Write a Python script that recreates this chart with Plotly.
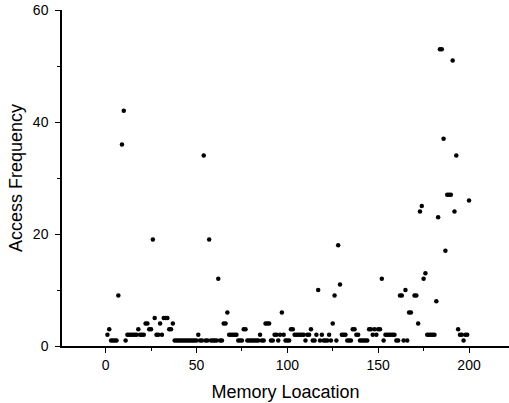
import plotly.graph_objects as go

memory_location = [
    1, 2, 3, 4, 5, 6, 7, 9, 10,
    11, 12, 13, 14, 15, 16, 17, 18, 19, 20,
    21, 22, 23, 24, 25, 26, 27, 28, 29, 30,
    31, 32, 33, 34, 35, 36, 37, 38, 39, 40,
    41, 42, 43, 44, 45, 46, 47, 48, 49, 50,
    51, 52, 53, 54, 55, 56, 57, 58, 59, 60,
    61, 62, 63, 64, 65, 66, 67, 68, 69, 70,
    71, 72, 73, 74, 75, 76, 77, 78, 79, 80,
    81, 82, 83, 84, 85, 86, 87, 88, 89, 90,
    91, 92, 93, 94, 95, 96, 97, 98, 99, 100,
    101, 102, 103, 104, 105, 106, 107, 108, 109, 110,
    111, 112, 113, 114, 115, 116, 117, 118, 119, 120,
    121, 122, 123, 124, 125, 126, 127, 128, 129, 130,
    131, 132, 133, 134, 135, 136, 137, 138, 139, 140,
    141, 142, 143, 144, 145, 146, 147, 148, 149, 150,
    151, 152, 153, 154, 155, 156, 157, 158, 159, 160,
    161, 162, 163, 164, 165, 166, 167, 168, 170,
    171, 172, 173, 174, 175, 176, 177, 178, 179, 180,
    181, 182, 183, 184, 185, 186, 187, 188, 189, 190,
    191, 192, 193, 194, 195, 196, 197, 198, 199, 200,
]

access_frequency = [
    2, 3, 1, 1, 1, 1, 9, 36, 42,
    1, 2, 2, 2, 2, 2, 2, 3, 2, 2,
    2, 4, 4, 3, 3, 19, 5, 2, 2, 4,
    2, 5, 5, 5, 3, 3, 4, 1, 1, 1,
    1, 1, 1, 1, 1, 1, 1, 1, 1, 1,
    2, 1, 1, 34, 1, 1, 19, 1, 1, 1,
    1, 12, 1, 1, 4, 4, 6, 2, 2, 2,
    2, 2, 1, 1, 1, 3, 3, 1, 1, 1,
    1, 1, 1, 1, 2, 1, 1, 4, 4, 4,
    1, 1, 2, 2, 1, 2, 6, 2, 1, 1,
    1, 3, 3, 2, 2, 2, 2, 2, 2, 1,
    2, 2, 3, 1, 1, 2, 10, 1, 2, 1,
    1, 1, 2, 1, 4, 9, 1, 18, 11, 2,
    2, 2, 1, 1, 1, 3, 3, 2, 2, 1,
    1, 1, 1, 1, 3, 3, 2, 3, 2, 3,
    3, 12, 1, 2, 2, 2, 2, 2, 2, 1,
    1, 9, 9, 1, 10, 1, 6, 6, 9,
    9, 4, 24, 25, 12, 13, 2, 2, 2, 2,
    2, 8, 23, 53, 53, 37, 17, 27, 27, 27,
    51, 24, 34, 3, 2, 2, 1, 2, 2, 26,
]

x_ticks = [0, 50, 100, 150, 200]
y_ticks = [0, 20, 40, 60]

fig = go.Figure(
    go.Scatter(
        x=memory_location,
        y=access_frequency,
        mode="markers",
        marker=dict(color="black", size=4.5, line=dict(width=0)),
        cliponaxis=False,
    )
)

axis_font = dict(family="Liberation Sans, Arial, sans-serif", size=14, color="black")
title_font = dict(family="Liberation Sans, Arial, sans-serif", size=18, color="black")

fig.update_layout(
    width=509,
    height=403,
    margin=dict(l=62, r=0, t=10, b=57, autoexpand=False),
    paper_bgcolor="white",
    plot_bgcolor="white",
    showlegend=False,
    font=axis_font,
    xaxis=dict(
        range=[-24, 222],
        tickvals=x_ticks,
        ticks="outside",
        ticklen=5,
        tickwidth=1,
        tickcolor="black",
        showline=True,
        linecolor="black",
        linewidth=1.5,
        showgrid=False,
        zeroline=False,
        automargin=False,
        minor=dict(ticks="outside", ticklen=3, tickvals=[25, 75, 125, 175], tickcolor="black", showgrid=False),
        tickfont=axis_font,
        title=dict(text="Memory Loacation", font=title_font, standoff=14),
    ),
    yaxis=dict(
        range=[0, 60],
        tickvals=y_ticks,
        ticks="outside",
        ticklen=5,
        tickwidth=1,
        tickcolor="black",
        showline=True,
        linecolor="black",
        linewidth=1.5,
        showgrid=False,
        zeroline=False,
        automargin=False,
        minor=dict(ticks="outside", ticklen=3, tickvals=[10, 30, 50], tickcolor="black", showgrid=False),
        tickfont=axis_font,
        ticklabelstandoff=4,
        title=dict(text="Access Frequency", font=title_font, standoff=6),
    ),
)

fig.write_html(
    "out.html",
    config={"displayModeBar": False},
    post_script="document.body.style.margin='0px';document.body.style.overflow='hidden';",
)
